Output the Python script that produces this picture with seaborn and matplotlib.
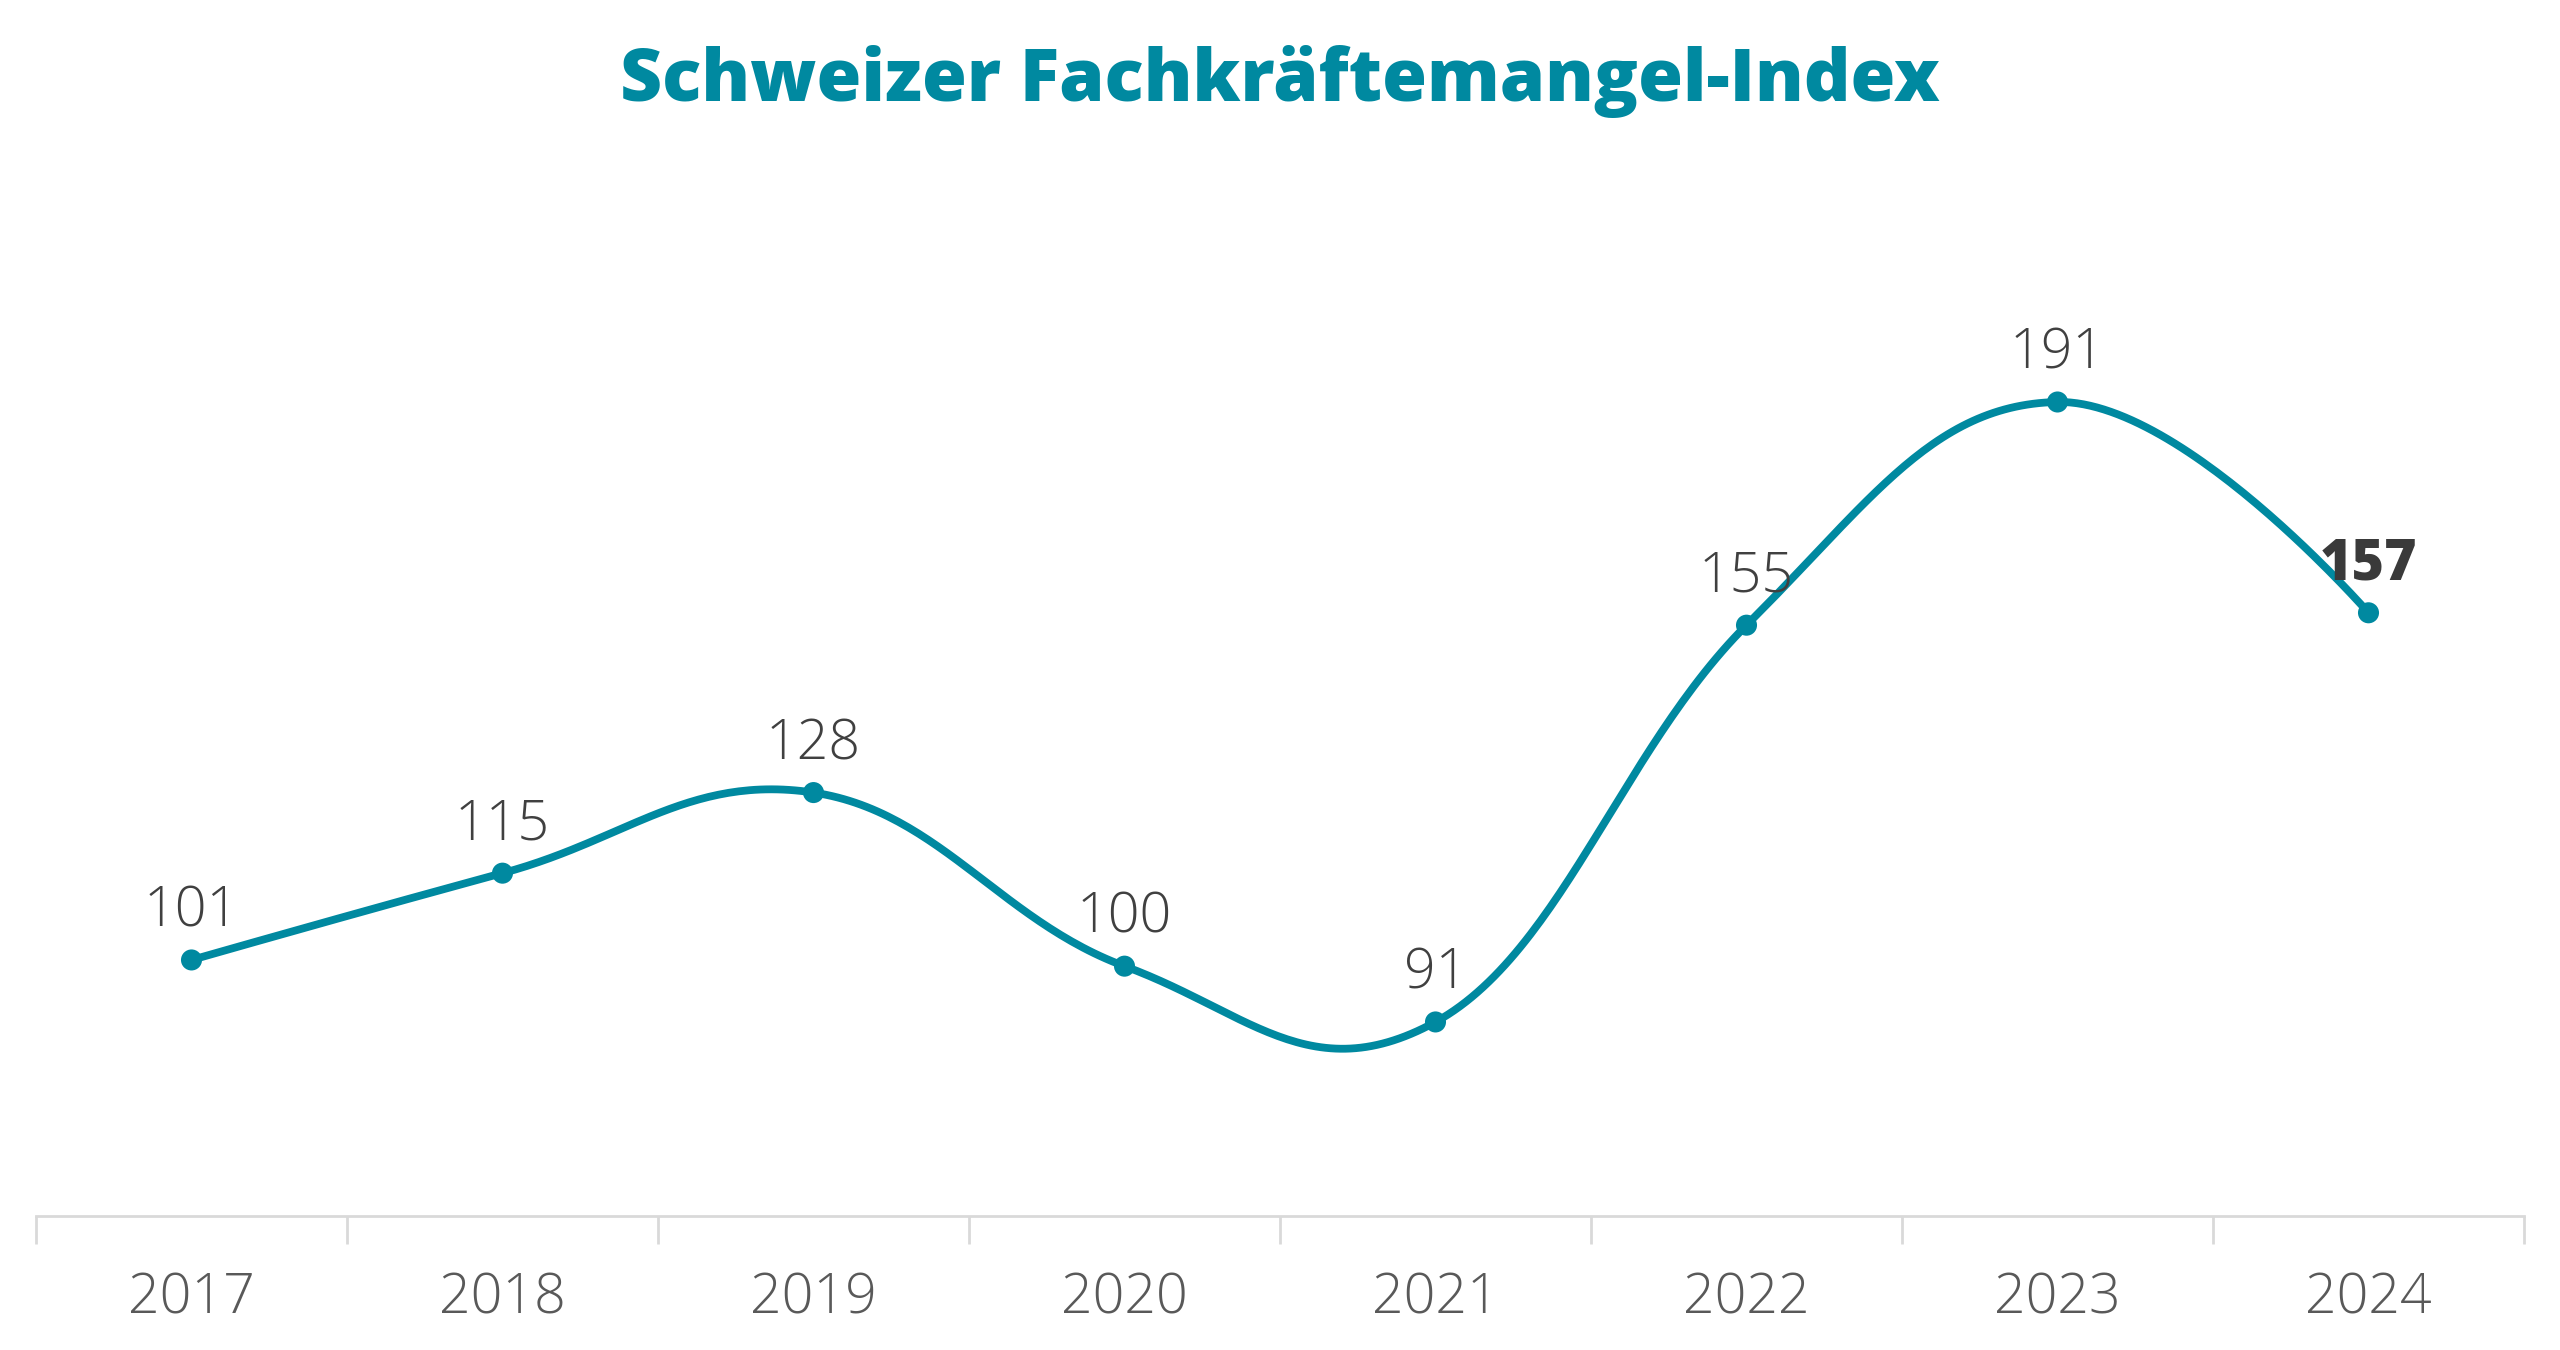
import numpy as np
import pandas as pd
import matplotlib
matplotlib.use("Agg")
import matplotlib.pyplot as plt
import seaborn as sns

# Data
years = ["2017", "2018", "2019", "2020", "2021", "2022", "2023", "2024"]
index_values = [101, 115, 128, 100, 91, 155, 191, 157]
highlight_year = "2024"

TEAL = "#0089a0"
LABEL_GREY = "#404040"
AXIS_GREY = "#d9d9d9"
YEAR_GREY = "#595959"


def spline_path(xs, ys, smoothing=1.5, n=60):
    # Highcharts-style spline: bezier control points through each point
    denom = smoothing + 1
    count = len(xs)
    left = [(xs[i], ys[i]) for i in range(count)]
    right = [(xs[i], ys[i]) for i in range(count)]
    for i in range(1, count - 1):
        lx, ly = xs[i - 1], ys[i - 1]
        px, py = xs[i], ys[i]
        nx, ny = xs[i + 1], ys[i + 1]
        lcx = (smoothing * px + lx) / denom
        lcy = (smoothing * py + ly) / denom
        rcx = (smoothing * px + nx) / denom
        rcy = (smoothing * py + ny) / denom
        corr = ((rcy - lcy) * (rcx - px)) / (rcx - lcx) + py - rcy
        left[i] = (lcx, lcy + corr)
        right[i] = (rcx, rcy + corr)
    t = np.linspace(0, 1, n)
    out_x, out_y = [], []
    for i in range(count - 1):
        p0 = np.array([xs[i], ys[i]])
        p1 = np.array(right[i])
        p2 = np.array(left[i + 1])
        p3 = np.array([xs[i + 1], ys[i + 1]])
        pts = (((1 - t) ** 3)[:, None] * p0 + (3 * (1 - t) ** 2 * t)[:, None] * p1
               + (3 * (1 - t) * t ** 2)[:, None] * p2 + (t ** 3)[:, None] * p3)
        out_x.extend(pts[:, 0])
        out_y.extend(pts[:, 1])
    return np.array(out_x), np.array(out_y)


sns.set_theme(style="white")
plt.rcParams["font.family"] = ["Open Sans", "DejaVu Sans"]

fig = plt.figure(figsize=(25.6, 13.5), dpi=100)
ax = fig.add_axes([36 / 2560, (1350 - 1216) / 1350, (2524 - 36) / 2560, (1216 - 110) / 1350])

xpos = np.arange(len(years))
curve_x, curve_y = spline_path(list(xpos), index_values)
curve = pd.DataFrame({"x": curve_x, "y": curve_y})
sns.lineplot(data=curve, x="x", y="y", sort=False, estimator=None,
             color=TEAL, linewidth=5.6, ax=ax)
points = pd.DataFrame({"x": xpos, "y": index_values})
sns.scatterplot(data=points, x="x", y="y", color=TEAL, s=230,
                edgecolor="none", zorder=5, ax=ax)

for x, v, yr in zip(xpos, index_values, years):
    bold = yr == highlight_year
    ax.annotate(str(v), (x, v), xytext=(0, 24), textcoords="offset points",
                ha="center", va="baseline", fontsize=40,
                fontweight="heavy" if bold else "light",
                color="#3a3a3a" if bold else LABEL_GREY)

ax.set_xlim(-0.5, len(years) - 0.5)
ax.set_ylim(59.7, 238.1)
ax.set_xlabel("")
ax.set_ylabel("")
ax.set_yticks([])
ax.set_xticks(xpos)
ax.set_xticklabels(years, fontsize=40, fontweight="light", color=YEAR_GREY)
ax.set_xticks(np.arange(len(years) + 1) - 0.5, minor=True)
ax.tick_params(axis="x", which="major", length=0, pad=40)
ax.tick_params(axis="x", which="minor", length=20, width=2, color=AXIS_GREY,
               direction="out", bottom=True)
for side in ["top", "left", "right"]:
    ax.spines[side].set_visible(False)
ax.spines["bottom"].set_color(AXIS_GREY)
ax.spines["bottom"].set_linewidth(2)

fig.text(0.5, 1 - 82 / 1350, "Schweizer Fachkräftemangel-Index", ha="center",
         va="center", fontsize=52.5, fontweight="heavy", color=TEAL)

fig.savefig("out.png", dpi=100, facecolor="white")
